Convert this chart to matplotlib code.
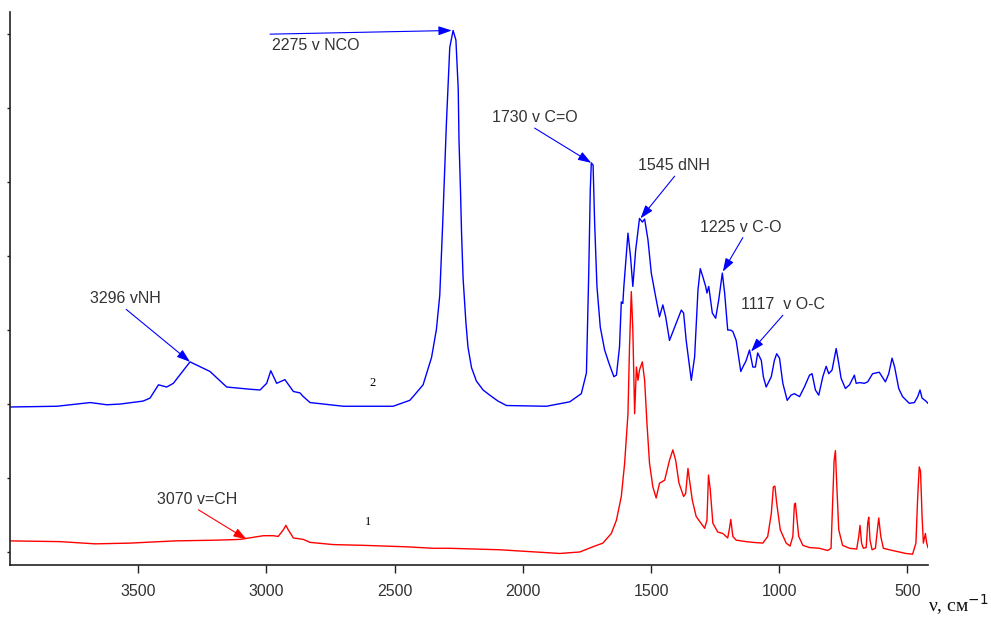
import matplotlib
matplotlib.use("Agg")
import matplotlib.pyplot as plt

plt.rcParams['font.family'] = ['Liberation Sans', 'DejaVu Sans']

# spectrum 2 (blue): wavenumber, intensity
blue_wn = [3999, 3817, 3687, 3622, 3570, 3481, 3454, 3421, 3389, 3363,
           3298, 3220, 3155, 3064, 3025, 2999, 2983, 2960, 2928, 2895,
           2869, 2856, 2830, 2700, 2506, 2441, 2428, 2389, 2356, 2337,
           2324, 2313, 2298, 2285, 2272, 2261, 2252, 2249, 2243, 2239,
           2233, 2222, 2214, 2200, 2181, 2155, 2129, 2097, 2064, 1908,
           1817, 1772, 1752, 1743, 1737, 1733,
           1726, 1720, 1711, 1698, 1681, 1664, 1645, 1635, 1623, 1616,
           1610, 1606, 1590, 1580, 1571, 1560, 1545, 1534, 1525, 1512,
           1499, 1482, 1467, 1454, 1443, 1428, 1408, 1382, 1373, 1363,
           1343, 1330, 1317, 1308, 1298, 1287, 1282, 1275, 1261, 1248,
           1236, 1222, 1213, 1201, 1190, 1181, 1168, 1150, 1142, 1130,
           1116, 1103, 1093, 1084, 1070, 1062, 1051, 1031, 1019, 1010,
           999, 986, 969, 954, 941, 921, 902, 882, 872, 859,
           846, 830, 817, 807, 794, 778, 768, 759, 742, 726,
           707, 700, 687, 668, 655, 636, 610, 599, 586, 573,
           560, 550, 534, 519, 493, 473, 460, 451, 443, 428,
           420]
blue_int = [19.6, 19.7, 20.2, 19.9, 20.0, 20.4, 20.8, 22.6, 22.3, 22.8,
            25.7, 24.4, 22.3, 22.0, 21.9, 22.8, 24.5, 22.8, 23.3, 21.7,
            21.5, 21.0, 20.2, 19.7, 19.7, 20.5, 21.0, 22.6, 26.3, 30.1,
            34.7, 44.0, 58.0, 68.2, 70.5, 69.2, 62.6, 55.7, 48.7, 43.1,
            37.0, 31.0, 27.7, 24.9, 23.1, 21.9, 21.2, 20.4, 19.8, 19.7,
            20.3, 21.4, 24.2, 37.7, 48.9, 52.6,
            52.3, 44.5, 35.9, 30.4, 27.3, 25.5, 23.7, 23.9, 27.7, 33.8,
            33.6, 35.9, 43.1, 39.9, 35.9, 40.8, 45.1, 44.6, 45.0, 42.2,
            37.7, 34.5, 31.8, 33.4, 31.8, 28.6, 30.4, 32.7, 32.3, 28.6,
            23.2, 26.4, 35.4, 38.3, 37.2, 35.9, 35.0, 35.9, 32.3, 31.6,
            34.1, 37.7, 35.0, 30.0, 30.0, 29.8, 28.6, 24.4, 25.0, 25.8,
            27.3, 25.0, 25.0, 26.9, 25.9, 23.7, 22.3, 23.7, 25.9, 26.8,
            26.2, 22.8, 20.5, 21.2, 21.4, 21.0, 22.3, 23.9, 24.1, 21.9,
            21.2, 23.7, 25.1, 24.1, 24.6, 27.5, 25.5, 23.5, 22.1, 22.6,
            23.9, 22.8, 22.9, 22.8, 23.0, 24.1, 24.3, 23.7, 23.0, 24.1,
            26.2, 25.0, 22.1, 21.0, 20.1, 20.2, 21.0, 21.9, 20.8, 20.4,
            20.1]

# spectrum 1 (red)
red_wn = [3999, 3804, 3668, 3532, 3356, 3194, 3103, 3012, 2973, 2954,
          2934, 2924, 2915, 2895, 2856, 2830, 2739, 2623, 2454, 2350,
          2285, 2090, 1856, 1778, 1727, 1688, 1655, 1635, 1616, 1603,
          1590, 1584, 1577, 1571, 1564, 1557, 1551, 1545, 1534, 1525,
          1516, 1506, 1493, 1480, 1467, 1447, 1428, 1415, 1404, 1391,
          1373, 1365, 1356, 1350, 1339, 1324, 1291, 1282, 1276, 1269,
          1259, 1240, 1220, 1201, 1194, 1189, 1181, 1168, 1129, 1103,
          1064, 1045, 1031, 1023, 1017, 1010, 996, 973, 958, 947,
          941, 937, 932, 924, 908, 882, 843, 811, 798, 791,
          786, 781, 776, 768, 753, 726, 698, 690, 685, 679,
          672, 661, 655, 651, 646, 638, 625, 616, 612, 604,
          594, 558, 506, 480, 467, 460, 454, 449, 443, 438,
          430, 425, 420]
red_int = [1.5, 1.4, 1.1, 1.2, 1.5, 1.6, 1.7, 2.2, 2.2, 2.1,
           3.0, 3.6, 3.0, 1.9, 1.7, 1.3, 1.0, 0.9, 0.7, 0.5,
           0.5, 0.3, -0.2, 0.0, 0.7, 1.2, 2.5, 4.3, 7.5, 12.0,
           18.7, 27.7, 35.2, 30.0, 18.7, 25.0, 23.2, 24.6, 25.7, 23.2,
           17.4, 12.0, 8.8, 7.3, 9.3, 9.7, 12.4, 13.8, 12.4, 9.3,
           7.5, 7.9, 11.3, 9.7, 7.0, 4.8, 3.2, 4.3, 10.4, 8.4,
           3.9, 2.7, 2.5, 1.9, 3.2, 4.4, 2.1, 1.6, 1.4, 1.3,
           1.2, 2.1, 5.2, 8.8, 8.9, 6.6, 3.0, 1.2, 0.8, 2.1,
           6.4, 6.6, 4.8, 2.1, 0.9, 0.6, 0.5, 0.2, 0.5, 7.5,
           12.4, 13.7, 9.3, 3.0, 0.9, 0.5, 0.4, 2.1, 3.6, 1.2,
           0.5, 0.6, 3.9, 4.7, 1.6, 0.3, 0.5, 3.4, 4.6, 2.1,
           0.5, 0.2, -0.2, -0.3, 1.2, 7.5, 11.5, 10.9, 4.8, 1.2,
           2.5, 1.2, 0.6]

x_ticks = [3500, 3000, 2500, 2000, 1500, 1000, 500]
y_ticks = [0, 10, 20, 30, 40, 50, 60, 70]

# peak labels: text, text position, arrow tail, arrow head, colour
labels = ["2275 v NCO", "1730 v C=O", "1545 dNH", "1225 v C-O",
          "1117  v O-C", "3296 vNH", "3070 v=CH"]
label_pos = [(2978, 68.5), (1954, 58.8), (1412, 52.3), (1151, 43.9),
             (987, 33.5), (3551, 34.2), (3269, 7.1)]
label_align = ["left", "center", "center", "center", "center", "center", "center"]
arrow_tail = [(2986, 70.0), (1954, 57.3), (1408, 50.8), (1142, 42.5),
              (986, 32.0), (3547, 32.8), (3265, 5.7)]
arrow_head = [(2277, 70.5), (1733, 52.6), (1541, 45.1), (1220, 37.9),
              (1110, 27.1), (3298, 25.7), (3077, 1.7)]
arrow_color = ["#0000ff"] * 6 + ["#ff0000"]

fig = plt.figure(figsize=(9.91, 6.2), dpi=100)
ax = fig.add_axes([0.0101, 0.0887, 0.9263, 0.892])

ax.plot(blue_wn, blue_int, color="#0000ff", lw=1.0)
ax.plot(red_wn, red_int, color="#ff0000", lw=1.0)

ax.set_xlim(4000, 420)
ax.set_ylim(-1.76, 73.0)
ax.set_xticks(x_ticks)
ax.set_yticks(y_ticks)
ax.set_yticklabels([])

for side in ["top", "right"]:
    ax.spines[side].set_visible(False)
for side in ["left", "bottom"]:
    ax.spines[side].set_color("#222222")
    ax.spines[side].set_linewidth(1.2)

ax.tick_params(axis="x", direction="out", length=6, width=1, colors="#222222",
               labelcolor="#333333", labelsize=11.5, pad=8)
ax.tick_params(axis="y", direction="out", length=2.5, width=1, colors="#222222")

for i in range(len(labels)):
    ax.text(label_pos[i][0], label_pos[i][1], labels[i], fontsize=11.5,
            color="#333333", ha=label_align[i], va="center")
    ax.annotate("", xy=arrow_head[i], xytext=arrow_tail[i],
                arrowprops=dict(arrowstyle="-|>,head_length=0.5,head_width=0.17",
                                color=arrow_color[i], lw=0.8, shrinkA=0, shrinkB=0,
                                mutation_scale=16))

# curve numbers
ax.text(2585, 22.8, "2", fontsize=9, family="Liberation Serif", ha="center", va="center")
ax.text(2603, 4.1, "1", fontsize=9, family="Liberation Serif", ha="center", va="center")

fig.text(0.998, 0.005, "ν, см$^{-1}$", fontsize=14, family="Liberation Serif",
         ha="right", va="bottom", color="#111111")

fig.savefig("out.png", dpi=100)
